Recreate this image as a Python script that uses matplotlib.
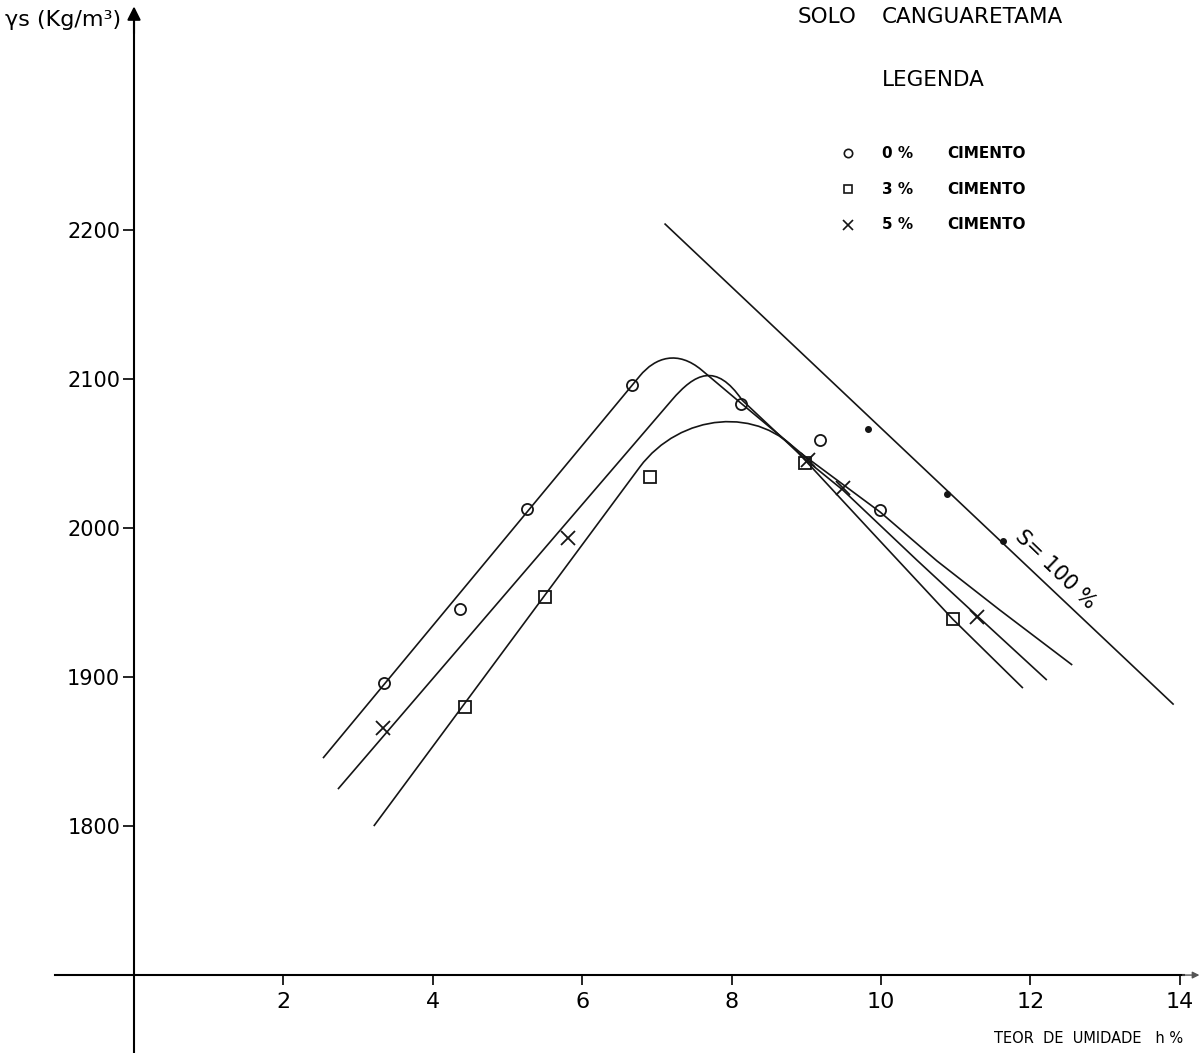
import matplotlib
matplotlib.use('Agg')
import matplotlib.pyplot as plt
from matplotlib.path import Path
from matplotlib.patches import PathPatch

# pontos do ensaio de compactacao (umidade %, peso especifico Kg/m3)
umid_0 = [3.35, 4.36, 5.26, 6.67, 8.13, 9.18, 9.99]
gama_0 = [1896, 1946, 2013, 2096, 2083, 2059, 2012]
umid_3 = [4.43, 5.50, 6.91, 8.98, 10.96]
gama_3 = [1880, 1954, 2034, 2044, 1939]
umid_5 = [3.33, 5.81, 9.02, 9.49, 11.29]
gama_5 = [1866, 1993, 2046, 2027, 1940]

# curvas tracadas: ramo de subida, canto (bezier), ramo de descida
curva_0_subida = [(2.53, 1845.6), (6.77, 2102.0)]
curva_0_canto = [(6.98, 2114.8), (7.28, 2119.5), (7.60, 2106.0)]
curva_0_descida = [(8.14, 2083.2), (8.96, 2049.0), (9.99, 2010.7),
                   (10.75, 1977.9), (11.59, 1945.0), (12.56, 1908.1)]

curva_5_subida = [(2.73, 1824.8), (7.20, 2085.9)]
curva_5_canto = [(7.51, 2104.0), (7.79, 2111.4), (8.14, 2085.9)]
curva_5_descida = [(8.98, 2046.3), (9.49, 2025.5), (10.48, 1978.5),
                   (11.29, 1940.9), (12.22, 1898.0)]

curva_3_subida = [(3.21, 1800.0), (6.77, 2040.9)]
curva_3_canto = [(7.31, 2077.2), (8.38, 2082.6), (8.92, 2049.0)]
curva_3_descida = [(9.85, 1998.7), (10.96, 1938.9), (11.90, 1892.6)]

# linha de saturacao S = 100 %
sat_umid = [7.11, 13.91]
sat_gama = [2204.0, 1881.9]
sat_pts_umid = [9.83, 10.88, 11.63]
sat_pts_gama = [2066.4, 2022.8, 1991.3]

xticks = [2, 4, 6, 8, 10, 12, 14]
yticks = [1800, 1900, 2000, 2100, 2200]

plt.rcParams['font.family'] = ['DejaVu Sans']

fig = plt.figure(figsize=(12.04, 10.53), dpi=100)
ax = fig.add_axes([0, 0, 1, 1])
ax.set_xlim(-1.794, 14.324)
ax.set_ylim(1647.7, 2354.4)


def desenha_curva(subida, canto, descida):
    verts = subida + canto + descida
    codes = [Path.MOVETO, Path.LINETO] + [Path.CURVE4] * 3 + [Path.LINETO] * len(descida)
    ax.add_patch(PathPatch(Path(verts, codes), fill=False, lw=1.2, ec='#151515'))


desenha_curva(curva_0_subida, curva_0_canto, curva_0_descida)
desenha_curva(curva_5_subida, curva_5_canto, curva_5_descida)
desenha_curva(curva_3_subida, curva_3_canto, curva_3_descida)

ax.plot(umid_0, gama_0, 'o', ms=8, mfc='none', mec='#151515', mew=1.3)
ax.plot(umid_3, gama_3, 's', ms=8, mfc='none', mec='#151515', mew=1.3)
ax.plot(umid_5, gama_5, 'x', ms=10, mec='#151515', mew=1.3)

ax.plot(sat_umid, sat_gama, color='#151515', lw=1.2)
ax.plot(sat_pts_umid, sat_pts_gama, 'o', ms=4, color='#151515')
ax.text(12.34, 1971.8, 'S= 100 %', rotation=-44, ha='center', va='center', fontsize=15)

# eixos
for s in ['top', 'right']:
    ax.spines[s].set_visible(False)
ax.spines['left'].set_position(('data', 0))
ax.spines['bottom'].set_position(('data', 1700))
ax.spines['left'].set_bounds(1647.7, 2340)
ax.spines['bottom'].set_bounds(-1.06, 14.05)
ax.spines['left'].set_linewidth(1.5)
ax.spines['bottom'].set_linewidth(1.5)
ax.annotate('', xy=(0, 2352), xytext=(0, 2330),
            arrowprops=dict(arrowstyle='-|>', color='k', lw=1.5, mutation_scale=20))
ax.annotate('', xy=(14.3, 1700), xytext=(14.0, 1700),
            arrowprops=dict(arrowstyle='-|>', color='#555555', lw=1.0, mutation_scale=10))

ax.set_xticks(xticks)
ax.set_xticklabels([str(t) for t in xticks], fontsize=16)
ax.set_yticks(yticks)
ax.set_yticklabels([str(t) for t in yticks], fontsize=15)
ax.tick_params(axis='x', direction='out', length=7, width=1.2, pad=5)
ax.tick_params(axis='y', direction='out', length=8, width=1.2, pad=2)

ax.text(-1.73, 2340.9, 'γs (Kg/m³)', ha='left', va='center', fontsize=16)
ax.text(14.04, 1657.7, 'TEOR  DE  UMIDADE   h %', ha='right', va='center', fontsize=10.5)

# titulo e legenda
ax.text(8.89, 2342.9, 'SOLO', ha='left', va='center', fontsize=15.5)
ax.text(10.01, 2342.9, 'CANGUARETAMA', ha='left', va='center', fontsize=15.5)
ax.text(10.01, 2300.7, 'LEGENDA', ha='left', va='center', fontsize=15.5)
leg_y = [2251.7, 2227.5, 2203.4]
leg_marcador = ['o', 's', 'x']
leg_texto = ['0 %', '3 %', '5 %']
for yy, m, t in zip(leg_y, leg_marcador, leg_texto):
    ax.plot(9.558, yy, m, ms=6 if m != 'x' else 7, mfc='none', mec='#151515', mew=1.2)
    ax.text(10.01, yy, t, ha='left', va='center', fontsize=11, fontweight='bold')
    ax.text(10.89, yy, 'CIMENTO', ha='left', va='center', fontsize=11, fontweight='bold')

fig.savefig('out.png', dpi=100, facecolor='white')
